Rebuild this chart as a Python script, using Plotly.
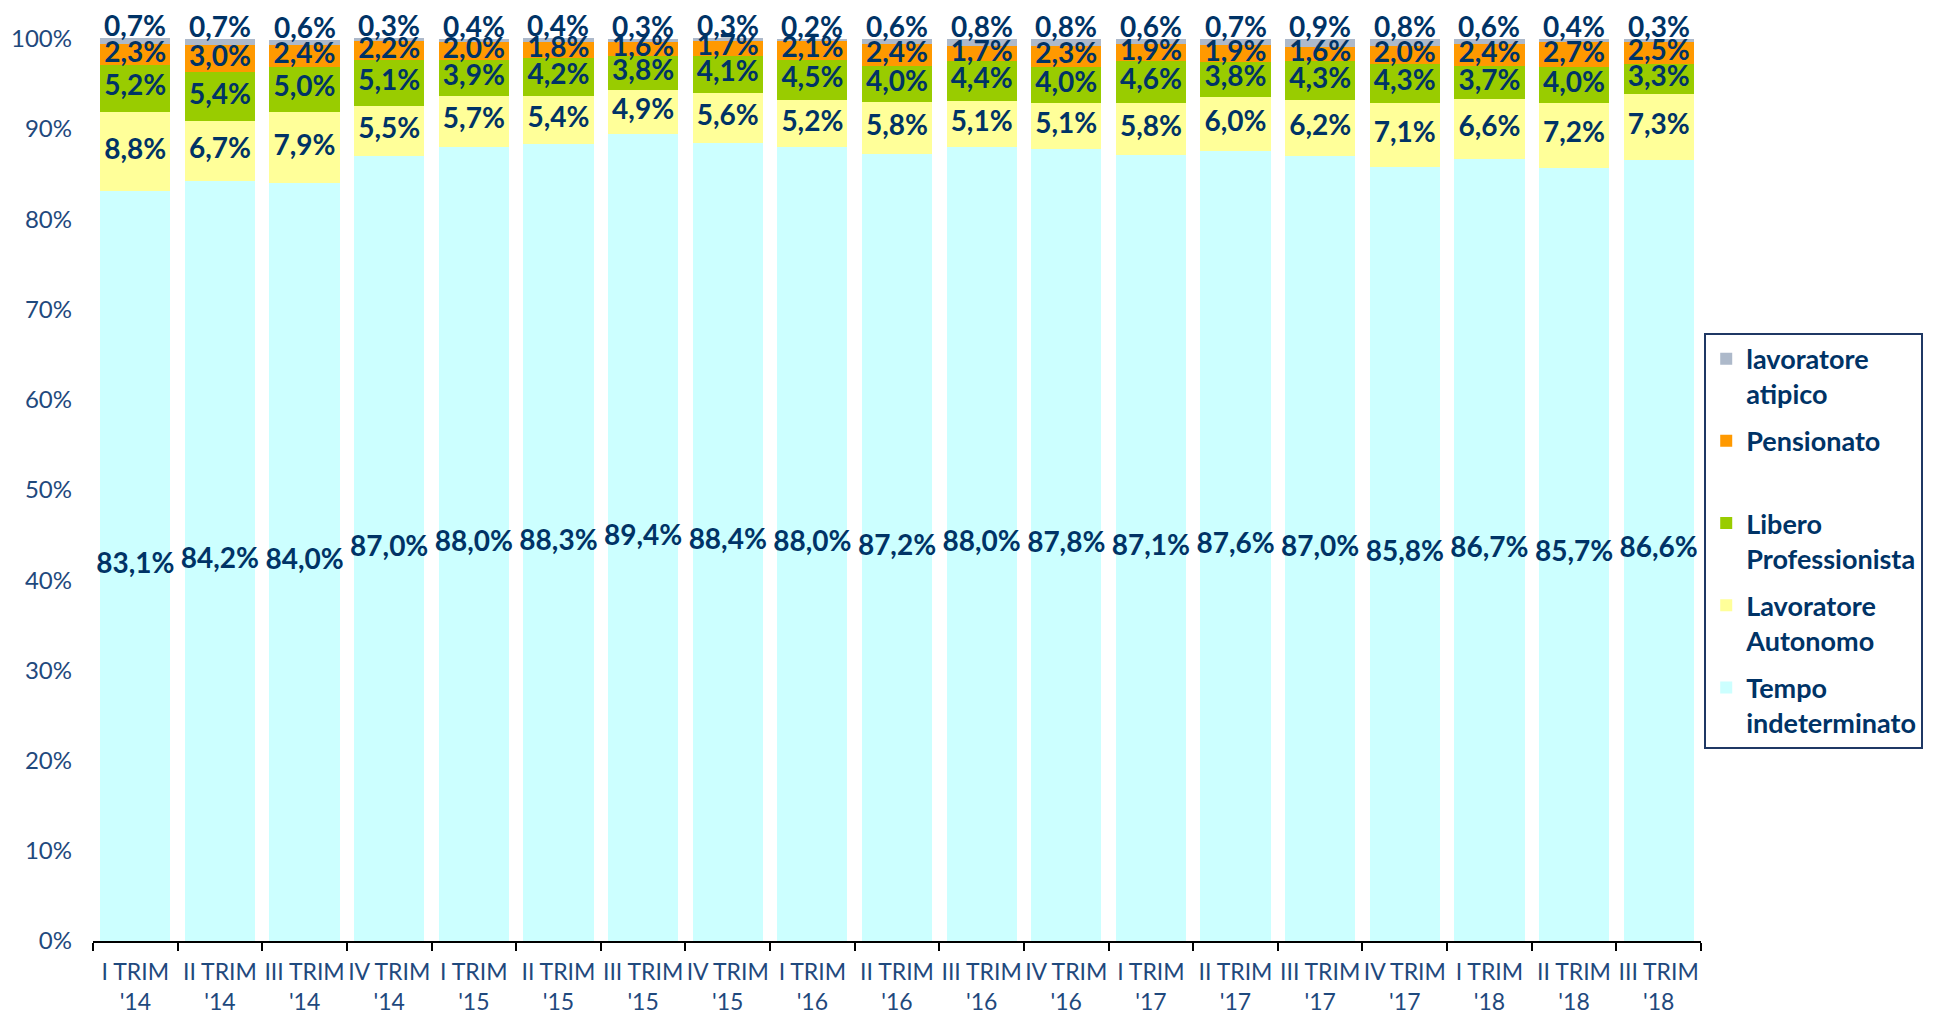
import plotly.graph_objects as go

categories = ["I TRIM<br>'14", "II TRIM<br>'14", "III TRIM<br>'14", "IV TRIM<br>'14",
              "I TRIM<br>'15", "II TRIM<br>'15", "III TRIM<br>'15", "IV TRIM<br>'15",
              "I TRIM<br>'16", "II TRIM<br>'16", "III TRIM<br>'16", "IV TRIM<br>'16",
              "I TRIM<br>'17", "II TRIM<br>'17", "III TRIM<br>'17", "IV TRIM<br>'17",
              "I TRIM<br>'18", "II TRIM<br>'18", "III TRIM<br>'18"]

tempo_indeterminato = [83.1, 84.2, 84.0, 87.0, 88.0, 88.3, 89.4, 88.4, 88.0, 87.2, 88.0, 87.8, 87.1, 87.6, 87.0, 85.8, 86.7, 85.7, 86.6]
lavoratore_autonomo = [8.8, 6.7, 7.9, 5.5, 5.7, 5.4, 4.9, 5.6, 5.2, 5.8, 5.1, 5.1, 5.8, 6.0, 6.2, 7.1, 6.6, 7.2, 7.3]
libero_professionista = [5.2, 5.4, 5.0, 5.1, 3.9, 4.2, 3.8, 4.1, 4.5, 4.0, 4.4, 4.0, 4.6, 3.8, 4.3, 4.3, 3.7, 4.0, 3.3]
pensionato = [2.3, 3.0, 2.4, 2.2, 2.0, 1.8, 1.6, 1.7, 2.1, 2.4, 1.7, 2.3, 1.9, 1.9, 1.6, 2.0, 2.4, 2.7, 2.5]
lavoratore_atipico = [0.7, 0.7, 0.6, 0.3, 0.4, 0.4, 0.3, 0.3, 0.2, 0.6, 0.8, 0.8, 0.6, 0.7, 0.9, 0.8, 0.6, 0.4, 0.3]

series = [
    ("Tempo<br>indeterminato", tempo_indeterminato, "#CCFFFF"),
    ("Lavoratore<br>Autonomo", lavoratore_autonomo, "#FFFF99"),
    ("Libero<br>Professionista", libero_professionista, "#99CC00"),
    ("Pensionato<br> ", pensionato, "#FF9900"),
    ("lavoratore<br>atipico", lavoratore_atipico, "#ADB9CA"),
]

NAVY = "#003366"
LABEL_FONT = dict(family="Lato", size=28, color=NAVY, weight="bold")

def fmt(v):
    return f"{v:.1f}".replace(".", ",") + "%"

fig = go.Figure()
base = [0.0] * len(categories)
label_traces = []
n = len(series)
for i, (name, vals, color) in enumerate(series):
    last = i == n - 1
    fig.add_trace(go.Bar(
        x=categories, y=vals, name=name,
        marker=dict(color=color, line=dict(width=0)),
        legendgroup=name, legendrank=n - i,
        hoverinfo="skip",
    ))
    if last:
        tops = [b + v for b, v in zip(base, vals)]
        for c, yv, v in zip(categories, tops, vals):
            fig.add_annotation(
                x=c, y=yv, text=fmt(v), showarrow=False,
                xanchor="center", yanchor="bottom", yshift=-6,
                font=LABEL_FONT,
            )
    else:
        ys = [b + v / 2 for b, v in zip(base, vals)]
        label_traces.append(go.Scatter(
            x=categories, y=ys, mode="text",
            text=[fmt(v) for v in vals],
            textposition="middle center", textfont=LABEL_FONT,
            showlegend=False, hoverinfo="skip", cliponaxis=False,
        ))
    base = [b + v for b, v in zip(base, vals)]

for t in label_traces:
    fig.add_trace(t)

# page body adds an 8px offset, so the figure is sized/margined to compensate
fig.update_layout(
    barmode="stack",
    bargap=0.17,
    width=1939, height=1002,
    margin=dict(l=85, r=246, t=29, b=69, autoexpand=False),
    paper_bgcolor="white", plot_bgcolor="white",
    showlegend=True,
    legend=dict(
        x=1.002, xanchor="left", y=0.673, yanchor="top",
        traceorder="grouped", valign="top",
        font=dict(family="Lato", size=27, color=NAVY, weight="bold"),
        bordercolor="#1F3864", borderwidth=2,
        tracegroupgap=9,
        itemwidth=30,
        entrywidth=230,
    ),
)
fig.update_yaxes(
    range=[0, 100.2], tickvals=list(range(0, 101, 10)),
    ticktext=[f"{v}%" for v in range(0, 101, 10)],
    showgrid=False, zeroline=False, showline=False,
    tickfont=dict(family="Lato", size=24, color="#1F497D"),
    ticks="", ticklabelstandoff=20, automargin=False,
)
fig.update_xaxes(
    range=[-0.5, len(categories) - 0.5],
    showline=True, linecolor="black", linewidth=2,
    ticks="outside", tickson="boundaries", ticklen=8, tickwidth=2, tickcolor="black",
    tickfont=dict(family="Lato", size=23, color="#1F497D"),
    tickangle=0, automargin=False, ticklabelstandoff=9,
)

fig.write_html("out.html")
